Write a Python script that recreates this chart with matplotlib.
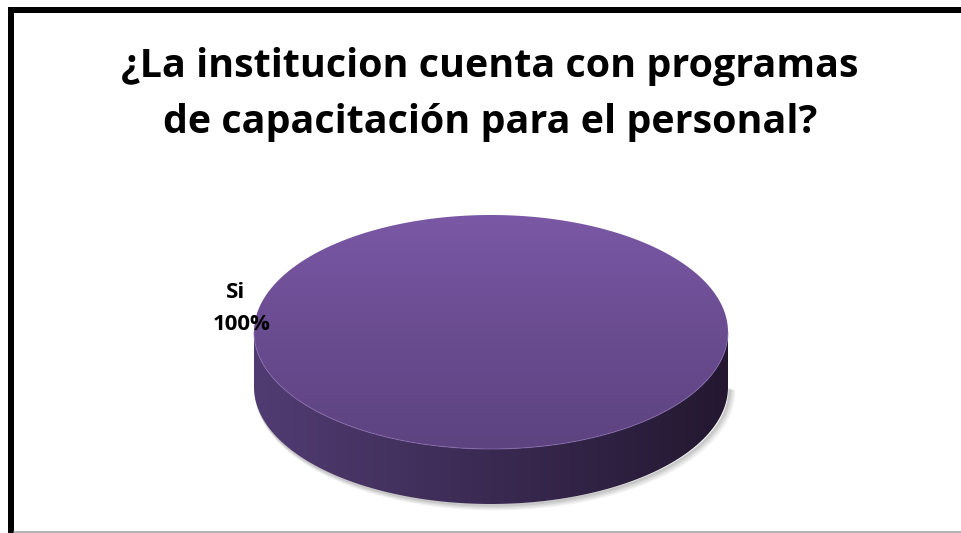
import numpy as np
import matplotlib
matplotlib.use("Agg")
import matplotlib.pyplot as plt
from matplotlib.patches import Polygon
from matplotlib.colors import LinearSegmentedColormap

# survey answer shares
labels = ["Si"]
values = [100]
title_lines = ["¿La institucion cuenta con programas",
               "de capacitación para el personal?"]

W, H = 962, 533
fig = plt.figure(figsize=(W / 100, H / 100), dpi=100)
ax = fig.add_axes([0, 0, 1, 1])
ax.set_xlim(0, W)
ax.set_ylim(H, 0)
ax.axis("off")

# frame: thick top/left edges, thin bottom
ax.plot([8, W], [10, 10], color="black", lw=6 * 72 / 100, solid_capstyle="butt")
ax.plot([11, 11], [7, H], color="black", lw=6 * 72 / 100, solid_capstyle="butt")
ax.plot([14, W], [531.5, 531.5], color="#9a9a9a", lw=1.5 * 72 / 100)

font = ["Open Sans", "DejaVu Sans"]

# title, sized so the first line spans ~735 px
t = ax.text(490, 77, title_lines[0], ha="center", va="baseline",
            fontsize=28, fontweight="bold", family=font)
fig.canvas.draw()
w = t.get_window_extent().width
size = 28 * 735 / w
t.set_fontsize(size)
ax.text(490, 133, title_lines[1], ha="center", va="baseline",
        fontsize=size, fontweight="bold", family=font)

# 3d pie geometry
cx, cy, a, b, depth = 491, 332, 237, 117, 55
total = float(sum(values))
angles = np.cumsum([0] + [v / total * 2 * np.pi for v in values])

top_cmap = LinearSegmentedColormap.from_list("top", ["#7a58a5", "#6a4c91", "#5d4380"])
side_cmap = LinearSegmentedColormap.from_list("side", ["#513c72", "#3a2a52", "#231830"])


def ell(t, dy=0):
    return np.column_stack([cx + a * np.cos(t), cy + b * np.sin(t) + dy])


# soft shadow under the disc
for k, alpha in enumerate([0.05, 0.05, 0.06, 0.07]):
    g = 5 - k
    sh = Polygon(ell(np.linspace(0, np.pi, 200), depth + g * 0.6) + [g * 0.8, 0],
                 closed=False, fill=False, edgecolor="black", alpha=alpha, lw=g)
    ax.add_patch(sh)

grad_v = np.linspace(0, 1, 256).reshape(-1, 1)
grad_h = np.linspace(0, 1, 256).reshape(1, -1)

for i, lab in enumerate(labels):
    t0, t1 = angles[i], angles[i + 1]
    # visible part of the side wall (front half, y pointing down)
    s0, s1 = max(t0, 0), min(t1, np.pi)
    if s1 > s0:
        arc = np.linspace(s0, s1, 200)
        side = np.vstack([ell(arc), ell(arc[::-1], depth)])
        sp = Polygon(side, closed=True, facecolor="none", edgecolor="none")
        ax.add_patch(sp)
        im = ax.imshow(grad_h, cmap=side_cmap, extent=[cx - a, cx + a, cy + b + depth, cy],
                       aspect="auto", zorder=2)
        im.set_clip_path(sp)

    # top face
    arc = np.linspace(t0, t1, 400)
    pts = ell(arc)
    if t1 - t0 < 2 * np.pi - 1e-9:
        pts = np.vstack([[cx, cy], pts])
    tp = Polygon(pts, closed=True, facecolor="none", edgecolor="none")
    ax.add_patch(tp)
    im = ax.imshow(grad_v, cmap=top_cmap, extent=[cx - a, cx + a, cy + b, cy - b],
                   aspect="auto", zorder=3)
    im.set_clip_path(tp)
    # light rim on the top edge
    ax.plot(*ell(np.linspace(0, np.pi, 200)).T, color="#8a6db3", lw=0.8, alpha=0.6, zorder=4)

    # data label beside the slice, left of the disc for a single slice
    mid = np.pi if len(values) == 1 else (t0 + t1) / 2
    lx = cx + a * np.cos(mid) - 15
    ly = cy + b * np.sin(mid) - 24
    ax.text(lx - 3, ly - 15, lab, ha="center", va="center", fontsize=16,
            fontweight="bold", family=font, zorder=5)
    ax.text(lx + 3, ly + 17, f"{values[i] / total * 100:.0f}%", ha="center", va="center",
            fontsize=16, fontweight="bold", family=font, zorder=5)

fig.savefig("out.png", dpi=100)
